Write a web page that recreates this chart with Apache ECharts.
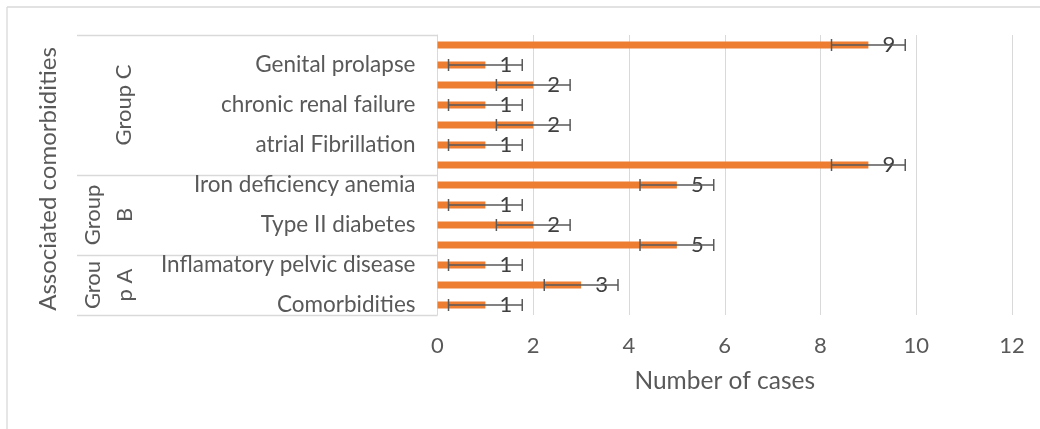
<!DOCTYPE html>
<html>
<head>
<meta charset="utf-8">
<script src="https://cdn.jsdelivr.net/npm/echarts@6/dist/echarts.min.js"></script>
<style>
html,body{margin:0;padding:0;background:#fff;}
#chart{width:1040px;height:429px;}
</style>
</head>
<body>
<div id="chart"></div>
<script>
// Categories from bottom to top (every other label is hidden, as in the reference)
const categories = ['Comorbidities', '', 'Inflamatory pelvic disease', '', 'Type II diabetes', '',
  'Iron deficiency anemia', '', 'atrial Fibrillation', '', 'chronic renal failure', '', 'Genital prolapse', ''];
const cases = [1, 3, 1, 5, 2, 1, 5, 9, 1, 2, 1, 2, 1, 9];
const errorAmount = 0.77;
const groupNames = ['Grou\np A', 'Group\nB', 'Group C'];
const groupFirst = [0, 3, 7];
const groupLast = [2, 6, 13];
const xTicks = [0, 2, 4, 6, 8, 10, 12];

const FONT = 'Lato';
const TXT = '#595959';
const GRID = '#d9d9d9';

const chart = echarts.init(document.getElementById('chart'));
const option = {
  animation: false,
  grid: { left: 437.5, right: 28, top: 35, bottom: 114 },
  xAxis: {
    type: 'value', min: xTicks[0], max: xTicks[xTicks.length - 1], interval: 2,
    name: 'Number of cases', nameLocation: 'middle', nameGap: 54,
    nameTextStyle: { fontFamily: FONT, fontSize: 24.5, color: TXT },
    axisLine: { show: false }, axisTick: { show: false },
    axisLabel: { fontFamily: FONT, fontSize: 22, color: TXT, margin: 20 },
    splitLine: { show: true, lineStyle: { color: GRID, width: 1 } }
  },
  yAxis: {
    type: 'category', data: categories,
    name: 'Associated comorbidities', nameLocation: 'middle', nameGap: 377,
    nameTextStyle: { fontFamily: FONT, fontSize: 24, color: TXT, padding: [0, 8, 0, 0] },
    axisLine: { show: true, lineStyle: { color: GRID, width: 1 } },
    axisTick: { show: false },
    axisLabel: { interval: 1, fontFamily: FONT, fontSize: 22.5, color: TXT, margin: 22 },
    splitLine: { show: false }
  },
  series: [
    {
      type: 'bar', data: cases, barWidth: 7,
      itemStyle: { color: '#ED7D31' },
      label: { show: true, position: 'right', distance: 14, fontFamily: FONT, fontSize: 22, color: '#404040' },
      z: 2
    },
    {
      type: 'custom', z: 5, silent: true,
      data: cases.map((v, i) => [i, v]),
      encode: { x: 1, y: 0 },
      renderItem: function (params, api) {
        const idx = api.value(0), v = api.value(1);
        const a = api.coord([v - errorAmount, idx]);
        const b = api.coord([v + errorAmount, idx]);
        const h = 6;
        const style = { stroke: '#595959', lineWidth: 1.5 };
        return {
          type: 'group', children: [
            { type: 'line', shape: { x1: a[0], y1: a[1], x2: b[0], y2: b[1] }, style: style },
            { type: 'line', shape: { x1: a[0], y1: a[1] - h, x2: a[0], y2: a[1] + h }, style: style },
            { type: 'line', shape: { x1: b[0], y1: b[1] - h, x2: b[0], y2: b[1] + h }, style: style }
          ]
        };
      }
    }
  ]
};
chart.setOption(option);

// Multi-level category box and group labels, placed from the category scale
function boundaryY(i) { // boundary between category i-1 and i
  const n = categories.length;
  const step = chart.convertToPixel({ yAxisIndex: 0 }, 0) - chart.convertToPixel({ yAxisIndex: 0 }, 1);
  if (i <= 0) return chart.convertToPixel({ yAxisIndex: 0 }, 0) + step / 2;
  if (i >= n) return chart.convertToPixel({ yAxisIndex: 0 }, n - 1) - step / 2;
  return (chart.convertToPixel({ yAxisIndex: 0 }, i - 1) + chart.convertToPixel({ yAxisIndex: 0 }, i)) / 2;
}
const axisX = chart.convertToPixel({ xAxisIndex: 0 }, 0);
const boxLeft = 77;
const graphics = [
  { type: 'line', shape: { x1: 7, y1: 7, x2: 1040, y2: 7 }, style: { stroke: GRID, lineWidth: 1.3 } },
  { type: 'line', shape: { x1: 7, y1: 7, x2: 7, y2: 429 }, style: { stroke: GRID, lineWidth: 1.3 } }
];
const bounds = [0].concat(groupLast.map(l => l + 1));
bounds.forEach(b => {
  const y = Math.round(boundaryY(b)) + 0.5;
  graphics.push({ type: 'line', shape: { x1: boxLeft, y1: y, x2: axisX, y2: y }, style: { stroke: GRID, lineWidth: 1.3 } });
});
groupNames.forEach((name, g) => {
  const yc = (boundaryY(groupFirst[g]) + boundaryY(groupLast[g] + 1)) / 2;
  const twoLine = name.indexOf('\n') >= 0;
  graphics.push({
    type: 'text', x: twoLine ? 109 : 124, y: yc, rotation: Math.PI / 2,
    style: { text: name, fontFamily: FONT, fontSize: 22, fill: TXT, align: 'center', verticalAlign: 'middle', lineHeight: 32 }
  });
});
chart.setOption({ graphic: graphics });
</script>
</body>
</html>
